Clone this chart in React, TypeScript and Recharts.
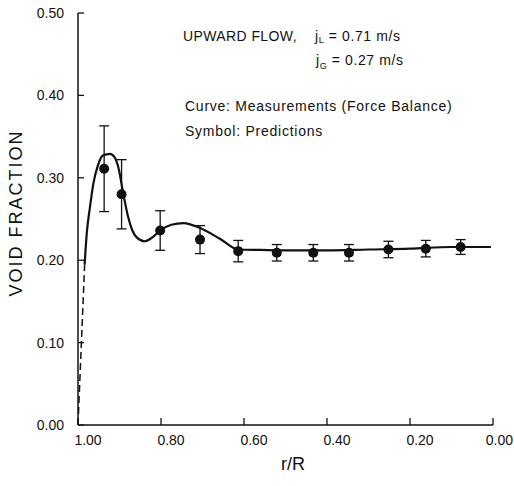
import React from "react";
import { ComposedChart, Line, Scatter, XAxis, YAxis, ErrorBar } from "recharts";

// Measured curve (Force Balance), r/R vs void fraction
const curveR = [0.984, 0.979, 0.971, 0.963, 0.952, 0.94, 0.923, 0.912, 0.903, 0.891, 0.879, 0.869, 0.859, 0.839, 0.82, 0.802, 0.775, 0.746, 0.706, 0.658, 0.614, 0.561, 0.5, 0.4, 0.3, 0.2, 0.1, 0.005];
const curveVoid = [0.195, 0.232, 0.265, 0.293, 0.315, 0.327, 0.329, 0.325, 0.313, 0.281, 0.252, 0.236, 0.228, 0.223, 0.228, 0.236, 0.243, 0.245, 0.239, 0.226, 0.213, 0.2125, 0.212, 0.212, 0.213, 0.214, 0.216, 0.216];

// Dashed wall extrapolation
const dashR = [1.0, 0.984];
const dashVoid = [0.0, 0.195];

// Predictions with error bars
const predR = [0.937, 0.895, 0.802, 0.706, 0.614, 0.521, 0.433, 0.347, 0.252, 0.162, 0.078];
const predVoid = [0.311, 0.28, 0.236, 0.225, 0.211, 0.209, 0.209, 0.209, 0.213, 0.214, 0.216];
const predErr = [0.052, 0.042, 0.024, 0.017, 0.013, 0.01, 0.01, 0.01, 0.01, 0.01, 0.009];

const xTicks = [1.0, 0.8, 0.6, 0.4, 0.2, 0.0];
const yTicks = [0.0, 0.1, 0.2, 0.3, 0.4, 0.5];

const curveData = curveR.map((x, i) => ({ x, y: curveVoid[i] }));
const dashData = dashR.map((x, i) => ({ x, y: dashVoid[i] }));
const predData = predR.map((x, i) => ({ x, y: predVoid[i], err: predErr[i] }));

const FONT = "'Liberation Sans', Arial, Helvetica, sans-serif";
const INK = "#111";

const PLOT_LEFT = 78;
const PLOT_BOTTOM = 425;

const XTick = (props: any) => {
  const cx = props.payload.coordinate;
  const last = Number(props.payload.value) === 0;
  return (
    <g>
      <line x1={cx} y1={PLOT_BOTTOM} x2={cx} y2={PLOT_BOTTOM - 7} stroke={INK} strokeWidth={1.3} />
      <text
        x={last ? 513 : cx + 10}
        y={445}
        textAnchor={last ? "end" : "middle"}
        fontSize={14}
        fontFamily={FONT}
        fill={INK}
      >
        {Number(props.payload.value).toFixed(2)}
      </text>
    </g>
  );
};

const YTick = (props: any) => {
  const cy = props.payload.coordinate;
  return (
    <g>
      <line x1={PLOT_LEFT} y1={cy} x2={PLOT_LEFT + 6} y2={cy} stroke={INK} strokeWidth={1.3} />
      <text x={64} y={cy + 5} textAnchor="end" fontSize={14} fontFamily={FONT} fill={INK}>
        {Number(props.payload.value).toFixed(2)}
      </text>
    </g>
  );
};

const Dot = (props: any) => <circle cx={props.cx} cy={props.cy} r={5} fill={INK} />;

export default function App() {
  return (
    <div style={{ position: "absolute", left: 0, top: 0, width: 514, height: 486, background: "#fff" }}>
      <ComposedChart width={514} height={486} margin={{ top: 13, right: 21, bottom: 0, left: 0 }}>
        <XAxis
          type="number"
          dataKey="x"
          domain={[0, 1]}
          reversed
          ticks={xTicks}
          interval={0}
          height={61}
          axisLine={{ stroke: INK, strokeWidth: 1.5 }}
          tickLine={false}
          tick={XTick}
          allowDataOverflow
        />
        <YAxis
          type="number"
          domain={[0, 0.5]}
          ticks={yTicks}
          interval={0}
          width={78}
          axisLine={{ stroke: INK, strokeWidth: 1.5 }}
          tickLine={false}
          tick={YTick}
          allowDataOverflow
        />
        <Line data={dashData} dataKey="y" type="linear" stroke={INK} strokeWidth={1.5} strokeDasharray="7 4" dot={false} isAnimationActive={false} />
        <Line data={curveData} dataKey="y" type="monotone" stroke={INK} strokeWidth={2.2} dot={false} isAnimationActive={false} />
        <Scatter data={predData} dataKey="y" shape={Dot} isAnimationActive={false}>
          <ErrorBar dataKey="err" direction="y" width={5} stroke={INK} strokeWidth={1.3} isAnimationActive={false} />
        </Scatter>
      </ComposedChart>
      <svg width={514} height={486} style={{ position: "absolute", left: 0, top: 0, pointerEvents: "none" }}>
        <g fontFamily={FONT} fill={INK}>
          <text x={183} y={41} fontSize={14} letterSpacing={0.4}>UPWARD FLOW,</text>
          <text x={315} y={41} fontSize={14} letterSpacing={0.6}>
            j<tspan fontSize={9} dy={2}>L</tspan>
            <tspan dy={-2}> = 0.71 m/s</tspan>
          </text>
          <text x={316} y={65} fontSize={14} letterSpacing={0.6}>
            j<tspan fontSize={9} dy={4}>G</tspan>
            <tspan dy={-4}> = 0.27 m/s</tspan>
          </text>
          <text x={185} y={111} fontSize={14} letterSpacing={0.75}>Curve:  Measurements (Force Balance)</text>
          <text x={185} y={136} fontSize={14} letterSpacing={0.75}>Symbol:  Predictions</text>
          <text x={293} y={470} fontSize={18} textAnchor="middle">r/R</text>
          <text x={0} y={0} fontSize={18} textAnchor="middle" letterSpacing={2} transform="translate(22,213) rotate(-90)">VOID FRACTION</text>
        </g>
      </svg>
    </div>
  );
}
